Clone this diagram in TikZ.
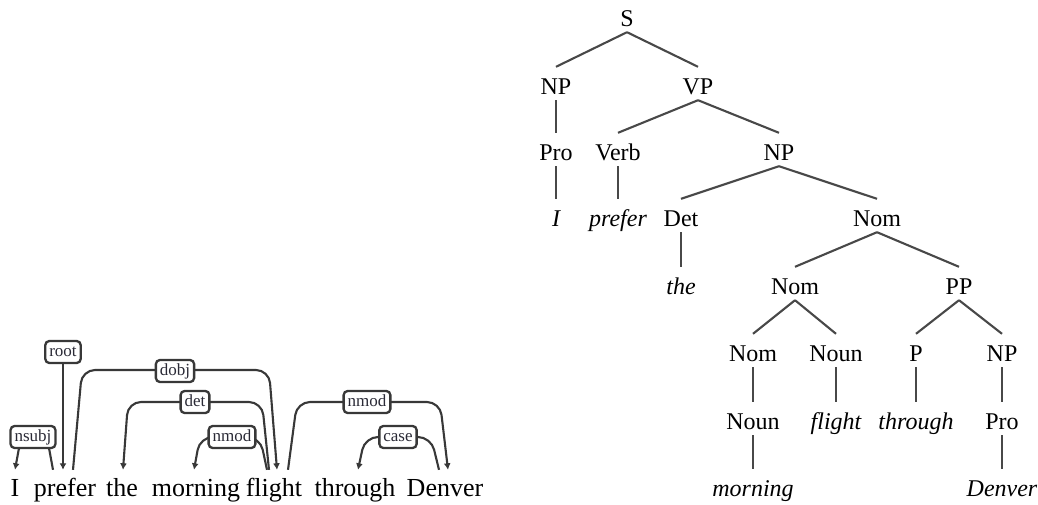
\documentclass[tikz,border=0pt]{standalone}
\usepackage{fontspec}
\setmainfont{Liberation Serif}
\usetikzlibrary{calc,arrows.meta}
\pgfdeclarelayer{paper}
\pgfdeclarelayer{arcs}
\pgfsetlayers{paper,arcs,main}
\definecolor{linegray}{HTML}{484848}
\definecolor{deepgray}{HTML}{383838}
\definecolor{labelgray}{HTML}{2A2A36}
\tikzset{
  tnode/.style={font=\fontsize{24}{28}\selectfont, text height=21pt, text depth=0pt,
    inner ysep=6pt, inner xsep=2pt, anchor=base},
  leaf/.style={tnode, font=\fontsize{24}{28}\selectfont\itshape},
  branch/.style={draw=linegray, line width=2.1pt},
  word/.style={font=\fontsize{26}{30}\selectfont, text height=20pt, text depth=0pt,
    inner ysep=6pt, inner xsep=1pt, anchor=base},
  deplabel/.style={draw=deepgray, line width=2.3pt, rounded corners=4pt, fill=white,
    font=\fontsize{17}{20}\selectfont, text=labelgray, inner xsep=4pt, inner ysep=0pt,
    minimum height=22pt, text height=12pt, text depth=3pt},
  dep/.style={draw=deepgray, line width=2.1pt, rounded corners=13pt},
  deparrow/.style={dep, -{Latex[length=6.5pt,width=7pt]}}
}
\begin{document}
\begin{tikzpicture}[x=1pt,y=-1pt]
\useasboundingbox (0,0) rectangle (1038,504);
\begin{pgfonlayer}{paper}
  \fill[white] (0,0) rectangle (1038,504);
\end{pgfonlayer}

% ---------- constituency tree ----------
\node[tnode] (tS)    at (627,26)  {S};
\node[tnode] (tNPa)  at (556,94)  {NP};
\node[tnode] (tVP)   at (698,94)  {VP};
\node[tnode] (tProa) at (556,160) {Pro};
\node[tnode] (tVerb) at (618,160) {Verb};
\node[tnode] (tNPb)  at (779,160) {NP};
\node[leaf]  (tI)    at (556,226) {I};
\node[leaf]  (tprefer) at (618,226) {prefer};
\node[tnode] (tDet)  at (681,226) {Det};
\node[tnode] (tNoma) at (877,226) {Nom};
\node[leaf]  (tthe)  at (681,294) {the};
\node[tnode] (tNomb) at (795,294) {Nom};
\node[tnode] (tPP)   at (959,294) {PP};
\node[tnode] (tNomc) at (753,361) {Nom};
\node[tnode] (tNouna) at (836,361) {Noun};
\node[tnode] (tP)    at (916,361) {P};
\node[tnode] (tNPc)  at (1002,361) {NP};
\node[tnode] (tNounb) at (753,429) {Noun};
\node[leaf]  (tflight) at (836,429) {flight};
\node[leaf]  (tthrough) at (916,429) {through};
\node[tnode] (tProb) at (1002,429) {Pro};
\node[leaf]  (tmorning) at (753,496) {morning};
\node[leaf]  (tDenver) at (1002,496) {Denver};

\foreach \p/\c in {tS/tNPa, tS/tVP, tNPa/tProa, tProa/tI, tVP/tVerb, tVP/tNPb,
  tVerb/tprefer, tNPb/tDet, tNPb/tNoma, tDet/tthe, tNoma/tNomb, tNoma/tPP,
  tNomb/tNomc, tNomb/tNouna, tNomc/tNounb, tNounb/tmorning, tNouna/tflight,
  tPP/tP, tPP/tNPc, tP/tthrough, tNPc/tProb, tProb/tDenver}
  \draw[branch] (\p.south) -- (\c.north);

% ---------- dependency parse ----------
\node[word] (wI)       at (15,496)  {I};
\node[word] (wprefer)  at (65,496)  {prefer};
\node[word] (wthe)     at (122,496) {the};
\node[word] (wmorning) at (196,496) {morning};
\node[word] (wflight)  at (274,496) {flight};
\node[word] (wthrough) at (355,496) {through};
\node[word] (wDenver)  at (445,496) {Denver};

\node[deplabel] (lnsubj) at (33,437)  {nsubj};
\node[deplabel] (lroot)  at (63,352)  {root};
\node[deplabel] (ldobj)  at (175,371) {dobj};
\node[deplabel] (ldet)   at (195,402) {det};
\node[deplabel] (lnmoda) at (232,437) {nmod};
\node[deplabel] (lnmodb) at (367,402) {nmod};
\node[deplabel] (lcase)  at (398,437) {case};

\begin{pgfonlayer}{arcs}
  \draw[deparrow] ($(wprefer.north)+(-12,0)$) -- (47,437) -- (21,437) -- (wI.north);
  \draw[deparrow] (lroot.south) -- ($(wprefer.north)+(-2,0)$);
  \draw[deparrow] ($(wprefer.north)+(8,0)$) -- (82,370) -- (269,370) -- ($(wflight.north)+(3,0)$);
  \draw[deparrow] ($(wflight.north)+(-5,0)$) -- (262,402) -- (128,402) -- ($(wthe.north)+(1,0)$);
  \draw[deparrow] ($(wflight.north)+(-7,0)$) -- (260,437) -- (200,437) -- ($(wmorning.north)+(-2,0)$);
  \draw[deparrow] ($(wflight.north)+(14,0)$) -- (297,402) -- (440,402) -- ($(wDenver.north)+(3,0)$);
  \draw[deparrow] ($(wDenver.north)+(-6,0)$) -- (431,437) -- (365,437) -- ($(wthrough.north)+(3,0)$);
\end{pgfonlayer}
\end{tikzpicture}
\end{document}
